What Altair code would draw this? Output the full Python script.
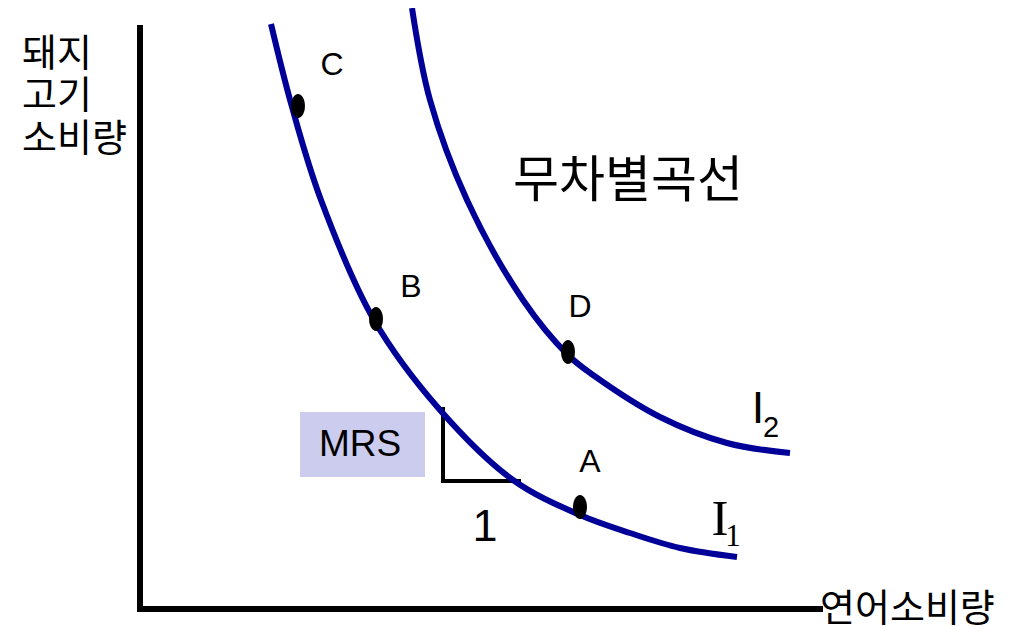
import altair as alt
import pandas as pd

# Indifference curve I1 (salmon quantity, pork quantity)
i1_x = [13.1, 15.2, 18.1, 23.4, 30.0, 37.3, 44.0, 49.0, 54.0, 59.7]
i1_y = [58.5, 50.2, 40.9, 28.9, 19.9, 12.9, 9.4, 7.6, 6.1, 5.2]
# Indifference curve I2
i2_x = [27.2, 29.0, 32.7, 38.3, 42.8, 45.3, 52.0, 58.7, 65.0]
i2_y = [60.1, 50.9, 40.9, 30.9, 25.4, 23.4, 19.2, 16.6, 15.6]
# Bundles
pt_names = ["C", "B", "D", "A"]
pt_x = [15.8, 23.6, 42.8, 44.0]
pt_y = [50.3, 29.0, 25.7, 10.2]

curves = pd.concat([
    pd.DataFrame({"x": i1_x, "y": i1_y, "c": "I1", "o": range(len(i1_x))}),
    pd.DataFrame({"x": i2_x, "y": i2_y, "c": "I2", "o": range(len(i2_x))}),
])
points = pd.DataFrame({"name": pt_names, "x": pt_x, "y": pt_y})

W, H = 1010, 619
xs = alt.Scale(domain=[-13.2, 87.8], nice=False, zero=False)
ys = alt.Scale(domain=[-1.8, 60.1], nice=False, zero=False)
X = lambda f="x": alt.X(f"{f}:Q", scale=xs, axis=None)
Y = lambda f="y": alt.Y(f"{f}:Q", scale=ys, axis=None)

KR = "Noto Sans CJK KR"
LAT = "Liberation Sans"
SERIF = "Liberation Serif"

# axes
axes_df = pd.DataFrame({"x": [0.0, 0.0], "x2": [0.0, 68.0], "y": [0.0, 0.0], "y2": [58.1, 0.0]})
axes = alt.Chart(axes_df).mark_rule(color="black", strokeWidth=6, strokeCap="square").encode(
    x=X(), x2="x2:Q", y=Y(), y2="y2:Q")

# MRS box
box_df = pd.DataFrame({"x": [16.0], "x2": [28.5], "y": [13.2], "y2": [19.7]})
box = alt.Chart(box_df).mark_rect(color="#ccccee").encode(x=X(), x2="x2:Q", y=Y(), y2="y2:Q")

# slope triangle
tri_df = pd.DataFrame({"x": [30.3, 30.3], "x2": [30.3, 37.9], "y": [12.8, 12.8], "y2": [20.0, 12.8]})
tri = alt.Chart(tri_df).mark_rule(color="black", strokeWidth=4, strokeCap="square").encode(
    x=X(), x2="x2:Q", y=Y(), y2="y2:Q")

lines = alt.Chart(curves).mark_line(color="#000099", strokeWidth=6, interpolate="catmull-rom").encode(
    x=X(), y=Y(), detail="c:N", order="o:Q")

ellipse = "M0,-1A0.58,1,0,1,1,0,1A0.58,1,0,1,1,0,-1Z"
dots = alt.Chart(points).mark_point(shape=ellipse, size=576, filled=True, color="black", opacity=1).encode(
    x=X(), y=Y())

def text(df, **kw):
    return alt.Chart(pd.DataFrame(df)).mark_text(color="black", baseline="middle", **kw).encode(
        x=X(), y=Y(), text="t:N")

ylab = text({"x": [-11.8] * 3, "y": [55.4, 51.2, 46.9], "t": ["돼지", "고기", "소비량"]},
            font=KR, fontSize=38, align="left")
xlab = text({"x": [68.0], "y": [-0.1], "t": ["연어소비량"]}, font=KR, fontSize=38, align="left")
title = text({"x": [37.3], "y": [42.7], "t": ["무차별곡선"]}, font=KR, fontSize=50, align="left")
letters = text({"x": [19.2, 27.1, 44.0, 45.0], "y": [54.4, 32.2, 30.2, 14.7], "t": ["C", "B", "D", "A"]},
               font=LAT, fontSize=32, align="center")
mrs = text({"x": [22.0], "y": [16.4], "t": ["MRS"]}, font=LAT, fontSize=37, align="center")
one = text({"x": [34.5], "y": [8.2], "t": ["1"]}, font=LAT, fontSize=45, align="center")
i1a = text({"x": [58.0], "y": [8.9], "t": ["I"]}, font=SERIF, fontSize=51, align="center")
i1b = text({"x": [59.3], "y": [7.2], "t": ["1"]}, font=SERIF, fontSize=31, align="center")
i2a = text({"x": [61.8], "y": [20.0], "t": ["I"]}, font=LAT, fontSize=45, align="center")
i2b = text({"x": [63.1], "y": [18.1], "t": ["2"]}, font=LAT, fontSize=29, align="center")

chart = alt.layer(box, tri, lines, axes, dots, ylab, xlab, title, letters, mrs, one, i1a, i1b, i2a, i2b).properties(
    width=W, height=H, padding=0,
    autosize=alt.AutoSizeParams(type="none"),
).configure(background="white", view=alt.ViewConfig(stroke=None))

chart.save("out.html", embed_options={"renderer": "svg", "actions": False})
